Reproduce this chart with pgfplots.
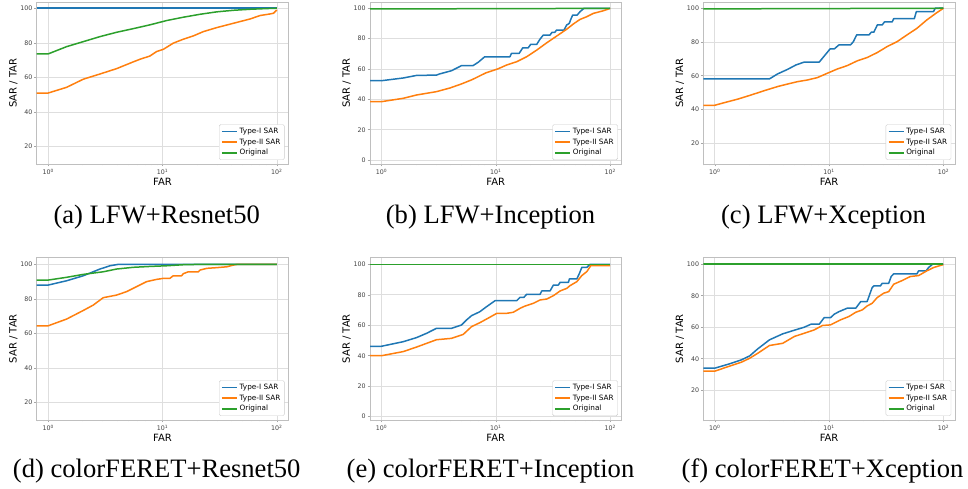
\documentclass[border=0pt]{standalone}
\usepackage{pgfplots}
\pgfplotsset{compat=1.18}
\usepackage{fontspec}
\setmainfont{DejaVu Sans}
\newfontfamily\capfont{Liberation Serif}
\definecolor{c0}{HTML}{1F77B4}
\definecolor{c1}{HTML}{FF7F0E}
\definecolor{c2}{HTML}{2CA02C}
\pgfplotsset{
  legend image code/.code={\draw[#1, line width=1.5pt] (0pt,0pt) -- (15pt,0pt);},
  scale only axis, width=251.6pt,
  xmin=0.794, xmax=125.9,
  xtick={1,10,100},
  xticklabels={10\textsuperscript{0},10\textsuperscript{1},10\textsuperscript{2}},
  minor xtick={0.8,0.9,2,3,4,5,6,7,8,9,20,30,40,50,60,70,80,90},
  xmajorgrids, ymajorgrids,
  major grid style={black!13, line width=0.6pt},
  axis line style={black!25, line width=0.6pt},
  tick style={black!35, line width=0.5pt},
  major tick length=2.5pt, minor tick length=1.5pt,
  tick align=outside, xtick pos=bottom, ytick pos=left,
  tick label style={font=\fontsize{6.3}{7}\selectfont, text=black!75},
  xticklabel style={inner sep=0pt, yshift=-2.5pt},
  yticklabel style={inner sep=0pt, xshift=-1.6pt},
  label style={font=\fontsize{9}{10}\selectfont, text=black!85},
  xlabel={FAR}, ylabel={SAR / TAR},
  every axis x label/.style={at={(axis description cs:0.5,-0.109)}, anchor=center},
  every axis y label/.style={at={(axis description cs:-0.093,0.5)}, anchor=center, rotate=90},
  legend style={at={(1,0)}, anchor=south east, xshift=-3.7pt, yshift=4pt,
    draw=black!20, rounded corners=1.5pt, fill=white,
    font=\fontsize{7.3}{8}\selectfont, inner xsep=2pt, inner ysep=1.5pt,
    nodes={inner sep=1.9pt}},
  legend cell align=left,
  every axis plot/.append style={line width=1.5pt, line join=round},
}
\begin{document}
\begin{tikzpicture}
\useasboundingbox (0pt,0pt) rectangle (968pt,489pt);

% (a)
\begin{axis}[xmode=log, /pgf/number format/assume math mode=true, at={(36.7pt,325pt)}, anchor=south west, height=162pt, ymin=10, ymax=103.6, ytick={20,40,60,80,100}]
\addplot[c0] coordinates {(0.794,100) (100,100)};
\addplot[c1] coordinates {(0.794,51) (1,51) (1.45,54.3) (2.03,59) (2.84,62) (3.97,65.1) (5.55,69) (6.35,70.5) (7.77,72.4) (8.89,75) (10.2,76.3) (12.4,79.8) (15.2,82.1) (18.6,84.0) (22.8,86.5) (29.8,88.8) (41.7,91.3) (58.4,93.8) (71.5,95.8) (87.5,96.7) (93.5,97.1) (100,99)};
\addplot[c2] coordinates {(0.794,73.6) (1,73.6) (1.45,77.8) (2.03,80.7) (2.84,83.6) (3.97,86.1) (5.55,88.2) (7.77,90.4) (10.9,92.9) (15.2,94.8) (21.3,96.5) (29.8,97.9) (41.7,98.8) (58.4,99.4) (81.7,99.8) (100,100)};
\legend{Type-I SAR,Type-II SAR,Original}
\end{axis}

% (b)
\begin{axis}[xmode=log, /pgf/number format/assume math mode=true, at={(370pt,325pt)}, anchor=south west, height=162pt, ymin=-2.6, ymax=104.2, ytick={0,20,40,60,80,100}]
\addplot[c0] coordinates {(0.794,52.3) (1,52.3) (1.55,54.1) (2.03,55.8) (3.03,56) (3.2,56.7) (4.1,58.9) (5.0,62.2) (6.3,62.2) (7.0,64.4) (8.0,68.1) (13.3,68.1) (13.7,70.3) (16,70.3) (17.2,74.0) (19.2,74.0) (20.2,76.3) (22.8,76.3) (24.3,79.6) (26,82.4) (29.8,82.4) (31,84.2) (32.8,84.2) (34,85.7) (39.5,85.7) (41.6,89) (43.9,90.1) (45,92.3) (47,95.6) (51.5,95.6) (54.5,97.8) (57.5,99.3) (59,100) (100,100)};
\addplot[c1] coordinates {(0.794,38.5) (1,38.5) (1.55,40.7) (2.03,42.9) (3.03,45.1) (3.97,47.5) (5.02,50.2) (6.2,53) (8.2,57.5) (10.5,60.2) (12.4,62.6) (15.2,64.8) (18.6,68.1) (22.8,72.5) (27.9,77.3) (34,81.7) (41.6,86.2) (47.6,89.7) (54.5,92.7) (62.4,94.5) (71.3,96.7) (87,98.4) (100,100)};
\addplot[c2] coordinates {(0.794,99.6) (100,100)};
\legend{Type-I SAR,Type-II SAR,Original}
\end{axis}

% (c)
\begin{axis}[xmode=log, /pgf/number format/assume math mode=true, at={(703.3pt,325pt)}, anchor=south west, height=162pt, ymin=7.7, ymax=103.7, ytick={20,40,60,80,100}]
\addplot[c0] coordinates {(0.794,58.1) (3,58.1) (3.55,61.1) (4.34,63.8) (5.13,66.4) (6.06,68.1) (8.2,68.1) (10.2,75.9) (11.1,75.9) (12.2,78.3) (15.4,78.3) (16.3,80.2) (17.4,84.2) (22.3,84.2) (23.4,85.8) (24.6,85.8) (26.4,90.1) (29.1,90.1) (30.5,91.9) (35.6,91.9) (36.7,93.8) (55.6,93.8) (57.9,98) (81.8,98) (84.7,100) (100,100)};
\addplot[c1] coordinates {(0.794,42.5) (1,42.5) (1.22,44.1) (1.6,46.2) (2.08,48.6) (2.72,51.2) (3.55,53.6) (4.34,55.1) (5.3,56.5) (6.48,57.5) (7.9,58.9) (9.67,61.5) (11.8,64) (14.4,66) (17.6,68.8) (21.5,70.8) (26.3,73.7) (32.2,77.3) (39.3,80.2) (48,84.2) (58.6,88.1) (71.6,93.1) (87.5,97.4) (100,100)};
\addplot[c2] coordinates {(0.794,99.6) (100,100)};
\legend{Type-I SAR,Type-II SAR,Original}
\end{axis}

% (d)
\begin{axis}[xmode=log, /pgf/number format/assume math mode=true, at={(36.7pt,69pt)}, anchor=south west, height=162.7pt, ymin=9.8, ymax=104.1, ytick={20,40,60,80,100}]
\addplot[c0] coordinates {(0.794,88) (1,88) (1.45,90.5) (2.03,93.4) (2.84,97.3) (3.47,99.2) (4.1,100) (100,100)};
\addplot[c1] coordinates {(0.794,64.4) (1,64.4) (1.45,68.3) (2.03,73.3) (2.48,76.4) (3.03,80.7) (3.97,82.2) (4.85,84.2) (5.94,87.1) (7.26,90) (8.89,91.3) (10.2,91.9) (11.6,91.9) (12.4,93.4) (14.7,93.4) (15.2,94.6) (16.8,95.7) (20.6,95.7) (21.3,96.7) (24.4,97.7) (29.8,98.1) (36.5,98.6) (41.7,99.6) (45,100) (100,100)};
\addplot[c2] coordinates {(0.794,90.9) (1,90.9) (1.45,92.5) (2.03,94.2) (3.03,95.7) (3.97,97.3) (5.55,98.3) (7.77,98.8) (10.9,99.2) (15.2,99.8) (21.3,100) (100,100)};
\legend{Type-I SAR,Type-II SAR,Original}
\end{axis}

% (e)
\begin{axis}[xmode=log, /pgf/number format/assume math mode=true, at={(370pt,69pt)}, anchor=south west, height=162.7pt, ymin=-2.2, ymax=104.6, ytick={0,20,40,60,80,100}]
\addplot[c0] coordinates {(0.794,46.2) (1,46.2) (1.55,49.2) (2.03,51.9) (2.48,54.7) (3.03,58) (4.1,58) (5.02,60.2) (5.55,63.5) (6.14,66.3) (7.26,68.9) (8.31,72.2) (9.84,76.1) (15.2,76.1) (16.3,78.3) (17.6,78.3) (18.6,80.3) (24.4,80.3) (25.2,82.5) (29.8,82.5) (31.9,86.4) (35.3,86.4) (36.5,88.2) (43.2,88.2) (44,90.4) (51.1,90.4) (53.9,94.1) (56.5,98) (62.5,98) (66.8,100) (100,100)};
\addplot[c1] coordinates {(0.794,40) (1,40) (1.55,42.7) (2.03,45.7) (2.48,48.1) (3.03,50.5) (4.1,51.4) (5.19,54) (6.14,59.1) (7.26,61.7) (8.31,64.1) (10.2,67.8) (12.4,67.8) (14.2,68.5) (16.3,71.1) (18,72.6) (21.3,74.4) (24.4,76.6) (27.9,77.2) (31.9,79.4) (36.5,82.5) (41.7,84.2) (44.6,86) (51.1,88.6) (56.5,92.6) (62.5,95.2) (67.7,99.1) (100,99.1)};
\addplot[c2] coordinates {(0.794,100) (100,100)};
\legend{Type-I SAR,Type-II SAR,Original}
\end{axis}

% (f)
\begin{axis}[xmode=log, /pgf/number format/assume math mode=true, at={(703.3pt,69pt)}, anchor=south west, height=162.7pt, ymin=1.1, ymax=104.4, ytick={20,40,60,80,100}]
\addplot[c0] coordinates {(0.794,34) (1,34) (1.31,36.5) (1.71,39.3) (2.02,41.8) (2.38,46.3) (3.01,52) (3.93,55.8) (4.96,58.1) (6.06,60) (6.93,61.9) (8.19,61.9) (9.05,66.1) (10.3,66.1) (11.1,68.3) (12.2,69.9) (14.4,72.1) (17.1,72.1) (18.9,76.3) (21.5,76.3) (23.8,85.2) (24.6,86.2) (28.1,86.2) (29.1,87.9) (33.2,87.9) (34.9,92.2) (36.7,93.9) (58.6,93.9) (60.6,95.8) (70.6,95.8) (74,97.9) (79.2,99.6) (80,100) (100,100)};
\addplot[c1] coordinates {(0.794,32.1) (1,32.1) (1.31,35) (1.71,37.8) (2.02,40.3) (2.38,43.5) (3.01,48.4) (3.93,49.8) (4.96,54.1) (6.06,56.2) (7.4,58.3) (8.75,61.1) (10.3,61.5) (12.6,64.7) (14.9,66.8) (17.1,69.5) (19.5,71) (21.5,73.5) (23.8,75.2) (26.3,78.8) (30,81.6) (33.2,82.6) (36.7,87.3) (43.4,89.6) (51.3,92.2) (60.6,92.8) (71.6,95.8) (81.9,97.9) (100,99.8)};
\addplot[c2] coordinates {(0.794,100) (100,100)};
\legend{Type-I SAR,Type-II SAR,Original}
\end{axis}

% captions
\begin{scope}[every node/.style={font=\capfont\fontsize{26.6}{30}\selectfont, anchor=base, inner sep=0pt}]
\node at (156.7pt,265.7pt) {(a) LFW+Resnet50};
\node at (490.5pt,265.7pt) {(b) LFW+Inception};
\node at (823.5pt,265.7pt) {(c) LFW+Xception};
\node at (156.7pt,11pt) {(d) colorFERET+Resnet50};
\node at (490.5pt,11pt) {(e) colorFERET+Inception};
\node at (822.5pt,11pt) {(f) colorFERET+Xception};
\end{scope}
\end{tikzpicture}
\end{document}
